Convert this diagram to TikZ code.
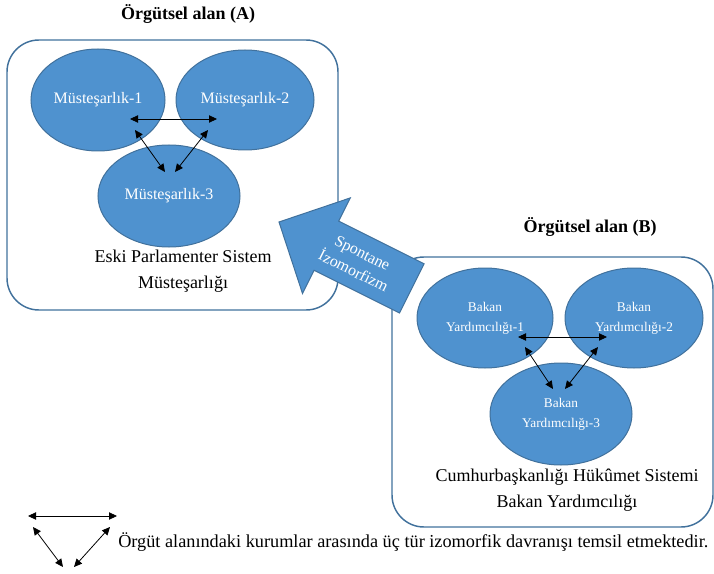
\documentclass[tikz,border=0pt]{standalone}
\usepackage{fontspec}
\setmainfont{Liberation Serif}
\usetikzlibrary{arrows.meta,shapes.geometric}
\definecolor{ellfill}{RGB}{79,146,207}
\definecolor{ellline}{RGB}{65,113,156}
\begin{document}
\begin{tikzpicture}[x=0.75pt,y=-0.75pt,
  fieldbox/.style={draw=ellline,line width=1.1pt,rounded corners=24pt,inner sep=0pt},
  org/.style={ellipse,draw=ellline,line width=0.75pt,fill=ellfill,text=white,inner sep=0pt,align=center},
  mtext/.style={font=\fontsize{12}{14}\selectfont},
  btext/.style={font=\fontsize{10}{15}\selectfont},
  lbl/.style={align=center,font=\fontsize{13.5}{19.5}\selectfont,inner sep=0pt},
  title/.style={font=\bfseries\fontsize{13.5}{16}\selectfont,inner sep=0pt},
  iso/.style={{Triangle[length=6pt,width=5.5pt]}-{Triangle[length=6pt,width=5.5pt]},line width=0.6pt,black},
  bigarrow/.style={draw=ellline,line width=0.75pt,fill=ellfill}]
\useasboundingbox (0,0) rectangle (714,574);

% titles
\node[title] (tA) at (188,14) {Örgütsel alan (A)};
\node[title] (tB) at (590,227) {Örgütsel alan (B)};

% field boxes
\node[fieldbox,minimum width=248.25pt,minimum height=202.5pt] (boxA) at (172.5,175) {};
\node[fieldbox,minimum width=240.75pt,minimum height=202.5pt] (boxB) at (552.5,392) {};

% field A
\node[org,mtext,minimum width=100.5pt,minimum height=76.5pt] (m1) at (98,100) {Müsteşarlık-1};
\node[org,mtext,minimum width=103.5pt,minimum height=75pt] (m2) at (245,100) {Müsteşarlık-2};
\node[org,mtext,minimum width=106.5pt,minimum height=76.5pt] (m3) at (169,196) {Müsteşarlık-3};
\coordinate (a1) at (130,119);
\coordinate (a2) at (217,119);
\coordinate (a3) at (135,130);
\coordinate (a4) at (165,172);
\coordinate (a5) at (208,130);
\coordinate (a6) at (175,172);
\draw[iso] (a1) -- (a2);
\draw[iso] (a3) -- (a4);
\draw[iso] (a5) -- (a6);
\node[lbl] (lA) at (183,271) {Eski Parlamenter Sistem\\Müsteşarlığı};

% field B
\node[org,btext,minimum width=102pt,minimum height=75pt] (b1) at (485,318) {Bakan\\Yardımcılığı-1};
\node[org,btext,minimum width=103.5pt,minimum height=75pt] (b2) at (634,318) {Bakan\\Yardımcılığı-2};
\node[org,btext,minimum width=106.5pt,minimum height=76.5pt] (b3) at (561,414) {Bakan\\Yardımcılığı-3};
\coordinate (c1) at (518,337);
\coordinate (c2) at (607,337);
\coordinate (c3) at (525,347);
\coordinate (c4) at (553,389);
\coordinate (c5) at (598,347);
\coordinate (c6) at (565,389);
\draw[iso] (c1) -- (c2);
\draw[iso] (c3) -- (c4);
\draw[iso] (c5) -- (c6);
\node[lbl] (lB) at (567,490) {Cumhurbaşkanlığı Hükûmet Sistemi\\Bakan Yardımcılığı};

% big arrow
\draw[bigarrow] (279,222) -- (350.3,197.9) -- (338.7,221.1) -- (424.1,263.8)
  -- (399.5,313.0) -- (314.1,270.3) -- (302.5,293.5) -- cycle;
\node[align=center,text=white,rotate=-26.6,inner sep=0pt,
  font=\fontsize{12}{15}\selectfont] (sp) at (358,262) {Spontane\\İzomorfizm};

% legend
\coordinate (l1) at (28,516);
\coordinate (l2) at (117,516);
\coordinate (l3) at (33,527);
\coordinate (l4) at (63,567);
\coordinate (l5) at (110,527);
\coordinate (l6) at (74,567);
\draw[iso] (l1) -- (l2);
\draw[iso] (l3) -- (l4);
\draw[iso] (l5) -- (l6);
\node[anchor=west,inner sep=0pt,font=\fontsize{13.7}{16}\selectfont] (leg) at (118,542)
  {Örgüt alanındaki kurumlar arasında üç tür izomorfik davranışı temsil etmektedir.};
\end{tikzpicture}
\end{document}
